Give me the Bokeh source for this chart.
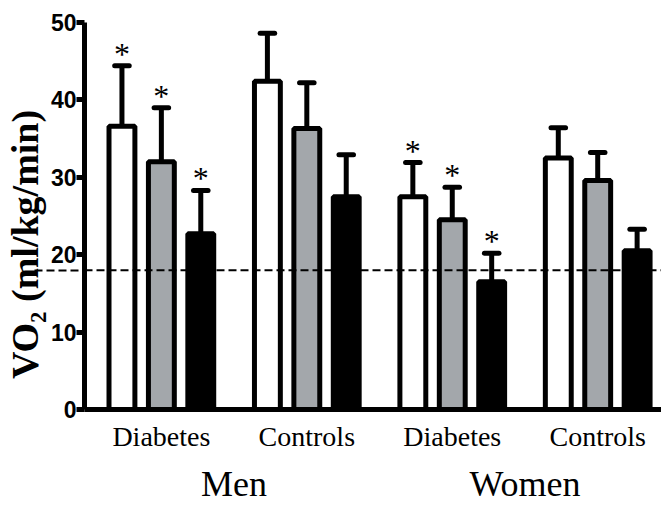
from bokeh.plotting import figure
from bokeh.models import Range1d, LinearAxis, FixedTicker, Span, ColumnDataSource
from bokeh.core.properties import value
from bokeh.embed import file_html
from bokeh.resources import INLINE

# ---- data ----
groups = ["Diabetes", "Controls", "Diabetes", "Controls"]
sexes = ["Men", "Women"]
white_mean = [36.6, 42.4, 27.5, 32.5]
white_sd = [7.8, 6.2, 4.4, 3.9]
gray_mean = [32.0, 36.3, 24.5, 29.6]
gray_sd = [7.0, 5.9, 4.2, 3.6]
black_mean = [22.7, 27.5, 16.5, 20.5]
black_sd = [5.6, 5.4, 3.7, 2.8]
significant = [True, False, True, False]
threshold = 18.0
y_ticks = [0, 10, 20, 30, 40, 50]
y_title = "VO\u2082  (ml/kg/min)"

# ---- layout constants ----
offsets = [-0.271, 0.0, 0.271]
bar_w = 0.178
cap_half = 0.05
fills = ["#ffffff", "#a3a7ab", "#000000"]
x_start, x_end = -0.5285, 3.4386

p = figure(output_backend="svg", toolbar_location=None,
           width=661, height=506,
           x_range=Range1d(x_start, x_end), y_range=Range1d(0, 50),
           min_border_left=83, min_border_right=0, min_border_top=22,
           min_border_bottom=96)
p.outline_line_color = None
p.xgrid.visible = False
p.ygrid.visible = False
p.background_fill_color = "white"
p.border_fill_color = "white"

p.add_layout(Span(location=threshold, dimension="width", line_color="black",
                  line_width=2, line_dash="8 4"))

series = [(white_mean, white_sd), (gray_mean, gray_sd), (black_mean, black_sd)]
for k, (means, sds) in enumerate(series):
    xs = [i + offsets[k] for i in range(len(groups))]
    tops = [m + s for m, s in zip(means, sds)]
    src = ColumnDataSource(dict(x=xs, m=means, top=tops,
                                x0=[x - cap_half for x in xs],
                                x1=[x + cap_half for x in xs]))
    p.segment(x0="x", y0="m", x1="x", y1="top", source=src,
              line_color="black", line_width=5)
    p.segment(x0="x0", y0="top", x1="x1", y1="top", source=src,
              line_color="black", line_width=5, line_cap="round")
    p.vbar(x="x", top="m", bottom=0, width=bar_w, source=src,
           fill_color=fills[k], line_color="black", line_width=5)
    sx = [x for x, s in zip(xs, significant) if s]
    sy = [t for t, s in zip(tops, significant) if s]
    p.text(x=sx, y=sy, text=["*"] * len(sx), text_align="center",
           text_baseline="alphabetic", y_offset=-12,
           text_font=value("Liberation Serif"), text_font_size="32px",
           text_color="black")

# y axis; the dashed threshold continues left of the axis as a minor tick
ya = p.yaxis[0]
ya.ticker = FixedTicker(ticks=y_ticks, minor_ticks=[threshold])
ya.axis_line_width = 5
ya.major_tick_line_width = 5
ya.major_tick_out = 8
ya.major_tick_in = 0
ya.minor_tick_out = 50
ya.minor_tick_in = 0
ya.minor_tick_line_width = 2
ya.minor_tick_line_dash = "8 4"
ya.minor_tick_line_color = "black"
ya.major_label_standoff = -42
ya.major_label_text_font = "Liberation Sans"
ya.major_label_text_font_style = "bold"
ya.major_label_text_font_size = "23px"
ya.major_label_text_color = "black"
ya.axis_label = y_title + "\u00a0" * 5
ya.axis_label_text_font = "Liberation Serif"
ya.axis_label_text_font_style = "bold"
ya.axis_label_text_font_size = "38px"
ya.axis_label_text_color = "black"
ya.axis_label_standoff = 2

# x axis (categories)
xa = p.xaxis[0]
xa.ticker = FixedTicker(ticks=[0, 1, 2, 3])
xa.major_label_overrides = {i: g for i, g in enumerate(groups)}
xa.axis_line_width = 5
xa.major_tick_line_color = None
xa.major_tick_out = 0
xa.major_tick_in = 0
xa.minor_tick_line_color = None
xa.major_label_standoff = 11
xa.major_label_text_font = "Liberation Serif"
xa.major_label_text_font_size = "28px"
xa.major_label_text_color = "black"

# second x axis (sex)
xa2 = LinearAxis(ticker=FixedTicker(ticks=[0.5, 2.5]),
                 major_label_overrides={0.5: sexes[0], 2.5: sexes[1]},
                 axis_line_color=None, major_tick_line_color=None,
                 minor_tick_line_color=None, major_tick_out=0, major_tick_in=0,
                 major_label_standoff=9,
                 major_label_text_font="Liberation Serif",
                 major_label_text_font_size="36px",
                 major_label_text_color="black")
p.add_layout(xa2, "below")

open("out.html", "w").write(file_html(p, INLINE))
